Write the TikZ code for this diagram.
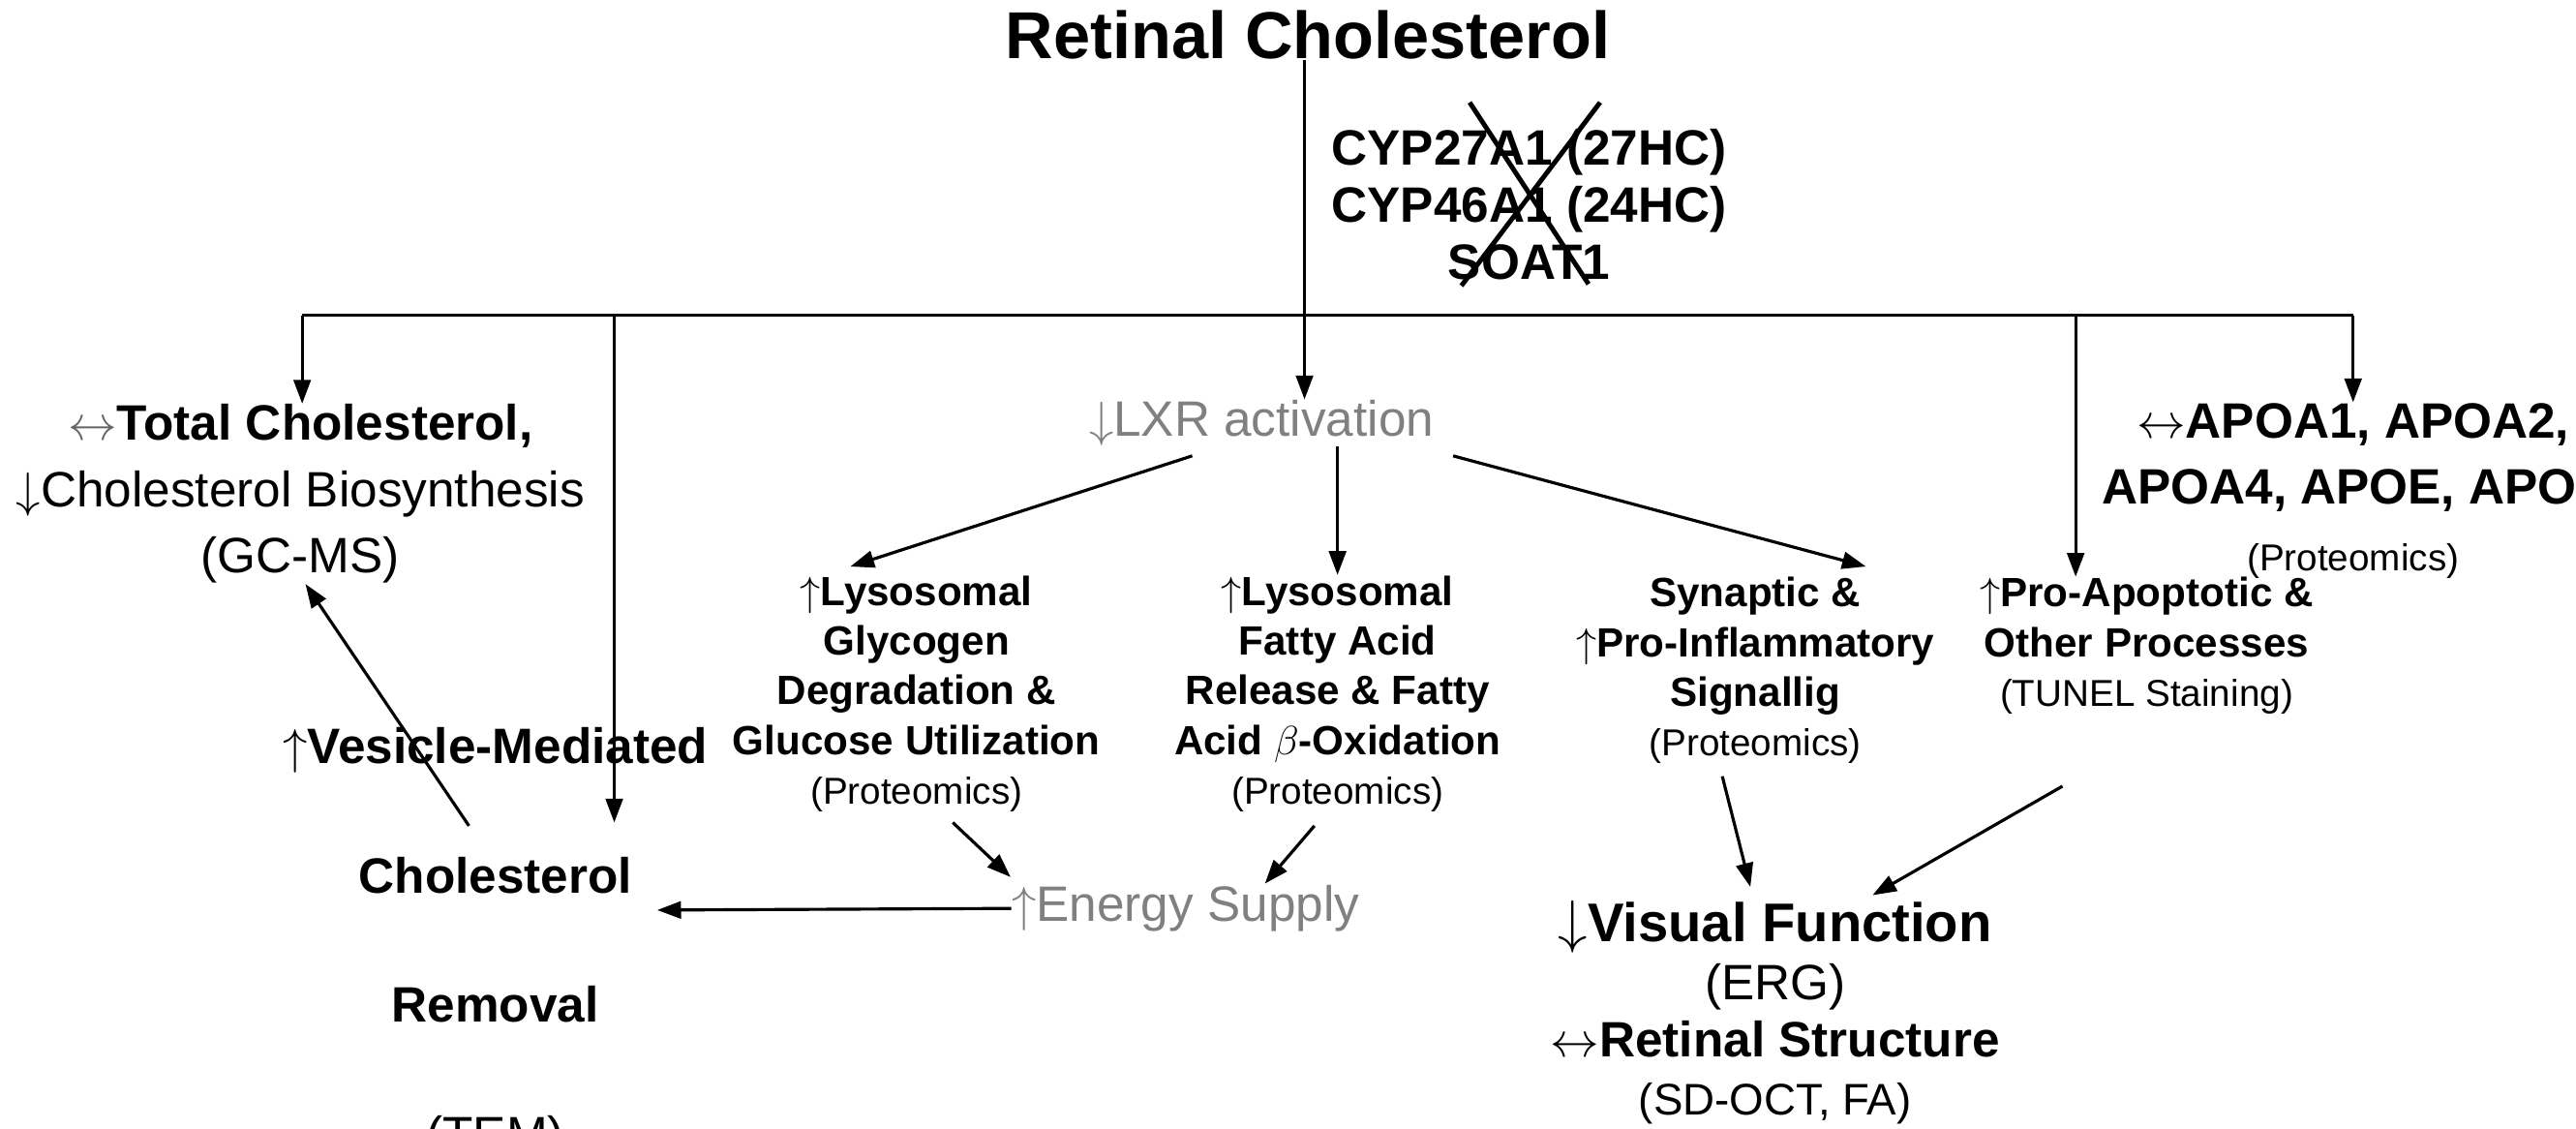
\documentclass[tikz,border=0pt]{standalone}
\usepackage{fontspec}
\setmainfont{Liberation Sans}
\usetikzlibrary{arrows.meta}
\newcommand{\smf}{\fontsize{11pt}{13pt}\selectfont\mdseries}
\begin{document}
\begin{tikzpicture}[x=0.01706cm,y=-0.01706cm,
  arr/.style={line width=0.9pt,-{Triangle[length=7pt,width=5pt]}},
  ln/.style={line width=0.9pt},
  T/.style={inner sep=0pt,align=center},
  big/.style={T,font=\fontsize{14.6pt}{19.5pt}\selectfont},
  mid/.style={T,font=\fontsize{12pt}{14.6pt}\selectfont\bfseries},
  gr/.style={text=black!50}]
\useasboundingbox (0,0) rectangle (1560,683);
\node[T,font=\fontsize{19.5pt}{22pt}\selectfont\bfseries] (title) at (792,21) {Retinal Cholesterol};
\node[T,font=\fontsize{14.6pt}{16.8pt}\selectfont\bfseries] (enz) at (926,124) {CYP27A1 (27HC)\\CYP46A1 (24HC)\\SOAT1};
\draw[line width=1.4pt] (890,62) -- (962,172);
\draw[line width=1.4pt] (969,62) -- (885,173);
\coordinate (j) at (790,191);
\coordinate (hl) at (183,191);
\coordinate (hv) at (372,191);
\coordinate (hp) at (1257,191);
\coordinate (hr) at (1425,191);
\node[big,gr] (lxr) at (764,256) {$\downarrow$LXR activation};
\draw[arr] (title.south -| j) -- (lxr.north -| j);
\draw[ln] (hl) -- (hr);
\node[big] (tc) at (182,299) {{\color{black!60}$\leftrightarrow$}\textbf{Total Cholesterol,}\\$\downarrow$Cholesterol Biosynthesis\\(GC-MS)};
\draw[arr] (hl) -- (tc.north -| hl);
\node[big] (apoa) at (1425,297) {\textbf{$\leftrightarrow$APOA1, APOA2,}\\\textbf{APOA4, APOE, APOJ}\\{\smf (Proteomics)}};
\draw[arr] (hr) -- (apoa.north -| hr);
\node[mid] (glyc) at (555,420) {$\uparrow$Lysosomal\\Glycogen\\Degradation \&\\Glucose Utilization\\{\smf(Proteomics)}};
\node[mid] (fat) at (810,420) {$\uparrow$Lysosomal\\Fatty Acid\\Release \& Fatty\\Acid $\beta$-Oxidation\\{\smf(Proteomics)}};
\node[mid] (syn) at (1063,406) {Synaptic \&\\$\uparrow$Pro-Inflammatory\\Signallig\\{\smf(Proteomics)}};
\node[mid] (apop) at (1300,391) {$\uparrow$Pro-Apoptotic \&\\Other Processes\\{\smf(TUNEL Staining)}};
\draw[arr] (hp) -- (apop.north -| hp);
\coordinate (l1) at (722,276);
\coordinate (l3) at (880,276);
\draw[arr] (l1) -- (515,343);
\draw[arr] (lxr.south -| fat) -- (fat.north);
\draw[arr] (l3) -- (1130,343);
\node[big,gr] (en) at (718,550) {$\uparrow$Energy Supply};
\draw[arr] (577,498) -- (612,531);
\draw[arr] (796,500) -- (766,535);
\node[big,font=\fontsize{14.6pt}{38pt}\selectfont] (ves) at (300,572) {\textbf{$\uparrow$Vesicle-Mediated}\\\textbf{Cholesterol}\\\textbf{Removal}\\(TEM)};
\draw[arr] (hv) -- (372,498);
\draw[arr] (en.west) -- (398,551);
\draw[arr] (284,500) -- (tc.south -| 185,0);
\node[big,font=\fontsize{14.6pt}{17pt}\selectfont] (vis) at (1075,613) {{\fontsize{16pt}{17pt}\selectfont\bfseries$\downarrow$Visual Function}\\(ERG)\\\textbf{$\leftrightarrow$Retinal Structure}\\{\fontsize{13pt}{17pt}\selectfont(SD-OCT, FA)}};
\draw[arr] (1043,470) -- (1060,537);
\draw[arr] (1249,476) -- (1134,542);
\end{tikzpicture}
\end{document}
